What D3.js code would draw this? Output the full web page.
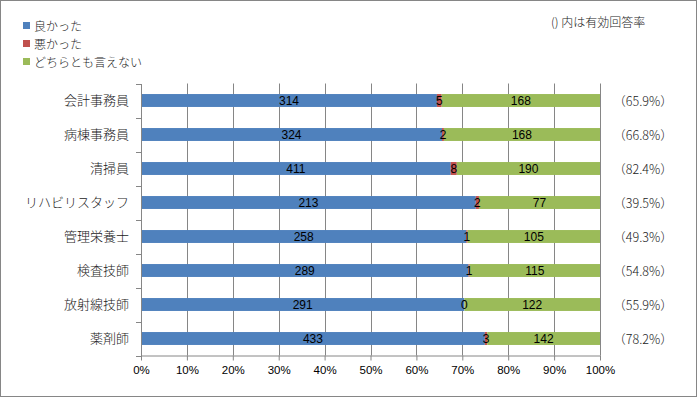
<!DOCTYPE html>
<html>
<head>
<meta charset="utf-8">
<script src="https://cdn.jsdelivr.net/npm/d3@7"></script>
<style>
  body { margin: 0; background: #fff; }
  svg text { font-family: "Liberation Sans", "Noto Sans CJK JP", sans-serif; }
  svg text.jp { font-family: "Noto Sans CJK JP", sans-serif; font-weight: 300; }
</style>
</head>
<body>
<div id="chart"></div>
<script>
const categories = ['会計事務員', '病棟事務員', '清掃員', 'リハビリスタッフ', '管理栄養士', '検査技師', '放射線技師', '薬剤師'];
const good = [314, 324, 411, 213, 258, 289, 291, 433];
const bad = [5, 2, 8, 2, 1, 1, 0, 3];
const neutral = [168, 168, 190, 77, 105, 115, 122, 142];
const responseRates = ['65.9%', '66.8%', '82.4%', '39.5%', '49.3%', '54.8%', '55.9%', '78.2%'];
const seriesNames = ['良かった', '悪かった', 'どちらとも言えない'];
const xTicks = [0, 0.1, 0.2, 0.3, 0.4, 0.5, 0.6, 0.7, 0.8, 0.9, 1];

const W = 697, H = 399;
const colors = ['#4F81BD', '#C0504D', '#9BBB59'];
const margin = { top: 83.5, left: 141, right: 97, bottom: 43.5 };

const svg = d3.select('#chart').append('svg')
  .attr('width', W).attr('height', H);

// outer frame
svg.append('rect')
  .attr('x', 0.5).attr('y', 0.5)
  .attr('width', W - 1).attr('height', H - 3)
  .attr('fill', '#fff').attr('stroke', '#868686');

const x = d3.scaleLinear().domain([0, 1]).range([margin.left, W - margin.right]);
const y = d3.scaleBand().domain(categories)
  .range([margin.top, H - margin.bottom]).paddingInner(0.62).paddingOuter(0.31);

const rows = categories.map((c, i) => {
  const vals = [good[i], bad[i], neutral[i]];
  const total = d3.sum(vals);
  let acc = 0;
  const segs = vals.map((v, k) => {
    const s = { cat: c, k, v, x0: acc / total, x1: (acc + v) / total };
    acc += v;
    return s;
  });
  return { cat: c, segs, rate: responseRates[i] };
});

// vertical gridlines
svg.append('g').selectAll('line').data(xTicks.slice(1)).enter().append('line')
  .attr('x1', d => Math.round(x(d)) + 0.5).attr('x2', d => Math.round(x(d)) + 0.5)
  .attr('y1', margin.top).attr('y2', H - margin.bottom)
  .attr('stroke', '#868686').attr('stroke-width', 1);

// bars
const g = svg.append('g');
g.selectAll('g').data(rows).enter().append('g')
  .selectAll('rect').data(d => d.segs).enter().append('rect')
  .attr('x', d => x(d.x0))
  .attr('width', d => x(d.x1) - x(d.x0))
  .attr('y', d => y(d.cat))
  .attr('height', y.bandwidth())
  .attr('fill', d => colors[d.k]);

// data labels
g.selectAll('text.lbl').data(rows.flatMap(r => r.segs)).enter().append('text')
  .attr('class', 'lbl')
  .attr('x', d => (x(d.x0) + x(d.x1)) / 2)
  .attr('y', d => y(d.cat) + y.bandwidth() / 2 + 4.5)
  .attr('text-anchor', 'middle')
  .attr('font-size', 12)
  .attr('fill', '#000')
  .text(d => d.v);

// x axis
const xAxis = svg.append('g')
  .attr('transform', `translate(0,${H - margin.bottom})`)
  .call(d3.axisBottom(x).tickValues(xTicks).tickFormat(d3.format('.0%')).tickSize(5).tickSizeOuter(0));
xAxis.select('.domain').attr('stroke', '#868686');
xAxis.selectAll('.tick line').attr('stroke', '#868686');
xAxis.selectAll('.tick text').attr('font-size', 11.5).attr('fill', '#000').attr('dy', '0.95em');

// y axis
const yAxis = svg.append('g')
  .attr('transform', `translate(${margin.left},0)`)
  .call(d3.axisLeft(y).tickSize(0).tickSizeOuter(0).tickPadding(12));
yAxis.select('.domain').attr('stroke', '#868686');
yAxis.selectAll('.tick text').attr('class', 'jp').attr('font-size', 13).attr('fill', '#1a1a1a');
// tick marks between categories
const step = y.step();
svg.append('g').selectAll('line').data(d3.range(categories.length + 1)).enter().append('line')
  .attr('x1', margin.left - 5).attr('x2', margin.left)
  .attr('y1', i => Math.round(margin.top + i * step) + 0.5)
  .attr('y2', i => Math.round(margin.top + i * step) + 0.5)
  .attr('stroke', '#868686');

// response rate labels
svg.append('g').selectAll('text').data(rows).enter().append('text')
  .attr('class', 'jp')
  .attr('x', 643)
  .attr('y', d => y(d.cat) + y.bandwidth() / 2 + 5)
  .attr('text-anchor', 'middle')
  .attr('font-size', 12.5)
  .attr('fill', '#1a1a1a')
  .text(d => '（' + d.rate + '）');

// legend
const legend = svg.append('g').selectAll('g').data(seriesNames).enter().append('g')
  .attr('transform', (d, i) => `translate(23,${22 + i * 18})`);
legend.append('rect').attr('width', 7).attr('height', 7).attr('fill', (d, i) => colors[i]);
legend.append('text').attr('class', 'jp').attr('x', 11).attr('y', 8.5).attr('font-size', 12).attr('fill', '#1a1a1a').text(d => d);

svg.append('text')
  .attr('class', 'jp')
  .attr('x', 551).attr('y', 27)
  .attr('font-size', 12).attr('fill', '#1a1a1a')
  .text('() 内は有効回答率');
</script>
</body>
</html>
